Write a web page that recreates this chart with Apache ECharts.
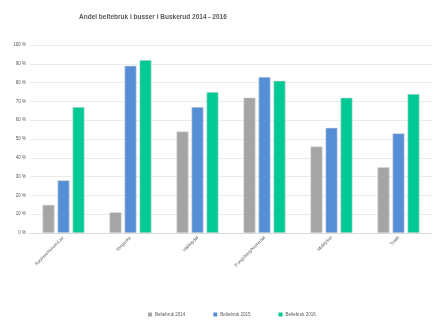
<!DOCTYPE html>
<html>
<head>
<meta charset="utf-8">
<script src="https://cdn.jsdelivr.net/npm/echarts@6/dist/echarts.min.js"></script>
<style>
  html, body { margin: 0; padding: 0; background: #ffffff; }
  #chart { width: 440px; height: 325px; }
</style>
</head>
<body>
<div id="chart"></div>
<script>
// Regions and seat-belt usage share (%) per year
const categories = ['Røyken/Hurum/Lier', 'Ringerike', 'Hallingdal', 'Kongsberg/Numedal', 'Midtfylket', 'Totalt'];
const seriesNames = ['Beltebruk 2014', 'Beltebruk 2015', 'Beltebruk 2016'];
const values2014 = [15, 11, 54, 72, 46, 35];
const values2015 = [28, 89, 67, 83, 56, 53];
const values2016 = [67, 92, 75, 81, 72, 74];
const colors = ['#a5a5a5', '#558ed5', '#00c995'];

const chart = echarts.init(document.getElementById('chart'), null, { renderer: 'canvas' });

const font = 'Liberation Sans, Arial, sans-serif';

function barSeries(name, data, color) {
  return {
    name: name,
    type: 'bar',
    data: data,
    barWidth: 12,
    barGap: '25%',
    itemStyle: { color: color, borderColor: '#d9d9d9', borderWidth: 0.6 }
  };
}

chart.setOption({
  animation: false,
  color: colors,
  title: {
    text: 'Andel beltebruk i busser i Buskerud 2014 - 2016',
    left: 74,
    top: 9,
    textStyle: { fontFamily: font, fontSize: 6.5, fontWeight: 'bold', color: '#595959' }
  },
  legend: {
    bottom: 3,
    left: 143,
    itemWidth: 4,
    itemHeight: 4,
    itemGap: 28,
    icon: 'rect',
    itemStyle: { borderWidth: 0 },
    textStyle: { fontFamily: font, fontSize: 4.5, color: '#595959', padding: [0, 0, 0, -2] },
    data: seriesNames
  },
  grid: { left: 30, right: 8, top: 45, bottom: 92, containLabel: false },
  xAxis: {
    type: 'category',
    data: categories,
    axisLine: { lineStyle: { color: '#d9d9d9' } },
    axisTick: { show: false },
    axisLabel: {
      rotate: 45,
      interval: 0,
      fontFamily: font,
      fontSize: 4.5,
      color: '#595959',
      margin: 4
    }
  },
  yAxis: {
    type: 'value',
    min: 0,
    max: 100,
    interval: 10,
    axisLine: { show: false },
    axisTick: { show: false },
    splitLine: { lineStyle: { color: '#e6e6e6', width: 0.8 } },
    axisLabel: {
      fontFamily: font,
      fontSize: 4.5,
      color: '#595959',
      margin: 4,
      formatter: function (v) { return v + ' %'; }
    }
  },
  series: [
    barSeries(seriesNames[0], values2014, colors[0]),
    barSeries(seriesNames[1], values2015, colors[1]),
    barSeries(seriesNames[2], values2016, colors[2])
  ]
});
</script>
</body>
</html>
